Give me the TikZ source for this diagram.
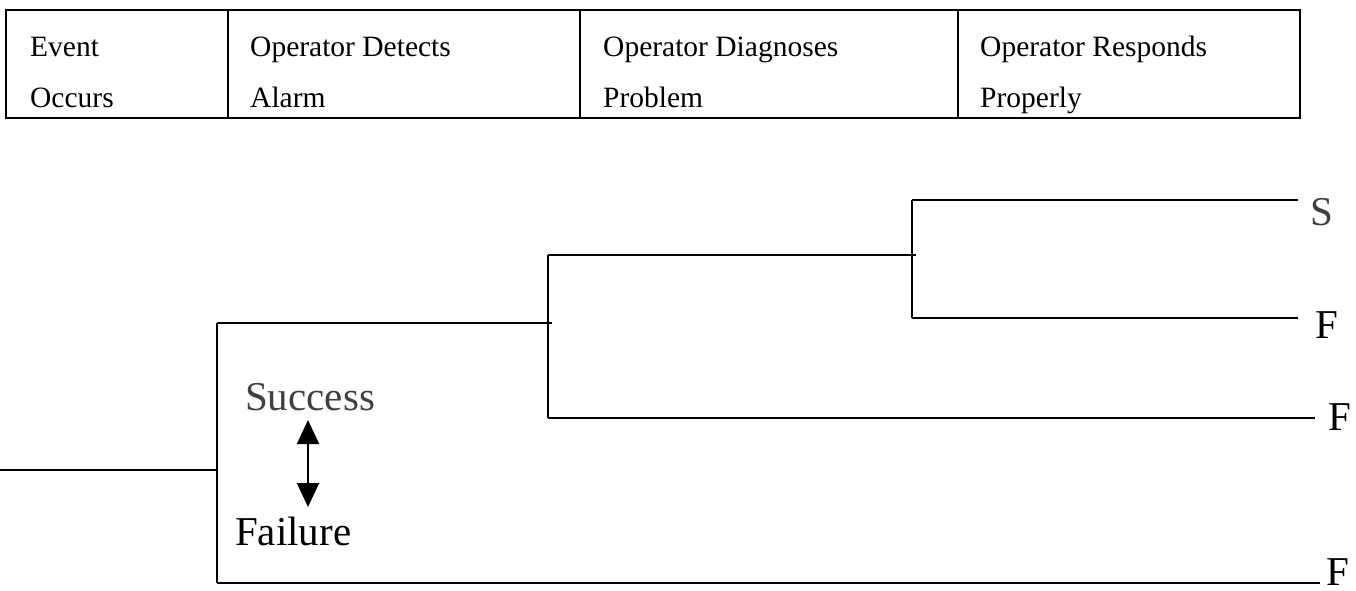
\documentclass[tikz,border=0pt]{standalone}
\usepackage{fontspec}
\setmainfont{Liberation Serif}
\usetikzlibrary{arrows.meta}
\begin{document}
\begin{tikzpicture}[x=1pt,y=-1pt,
  rule/.style={line width=2pt},
  branch/.style={line width=2pt},
  hdr/.style={font=\fontsize{29.5}{32}\selectfont, anchor=base west, inner sep=0pt},
  big/.style={font=\fontsize{41}{44}\selectfont, anchor=base west, inner sep=0pt},
  updown/.style={line width=2pt, {Triangle[width=22pt,length=24pt]}-{Triangle[width=22pt,length=24pt]}}]
\useasboundingbox (0,0) rectangle (1356,591);

% heading table
\draw[rule] (6,10) rectangle (1300,118);
\foreach \x in {228,580,958} \draw[rule] (\x,10) -- (\x,118);
\node[hdr] (h1a) at (30,57)  {Event};
\node[hdr] (h1b) at (30,107) {Occurs};
\node[hdr] (h2a) at (250,57) {Operator Detects};
\node[hdr] (h2b) at (250,107) {Alarm};
\node[hdr] (h3a) at (603,57) {Operator Diagnoses};
\node[hdr] (h3b) at (603,107) {Problem};
\node[hdr] (h4a) at (980,57) {Operator Responds};
\node[hdr] (h4b) at (980,107) {Properly};

% event tree branch points
\coordinate (start) at (0,470);
\coordinate (n1)  at (217,470);
\coordinate (n1u) at (217,323);
\coordinate (n1d) at (217,583);
\coordinate (n2)  at (548,323);
\coordinate (n2u) at (548,255);
\coordinate (n2d) at (548,418);
\coordinate (n3)  at (912,255);
\coordinate (n3u) at (912,200);
\coordinate (n3d) at (912,318);
\coordinate (e1) at (1298,200);
\coordinate (e2) at (1298,318);
\coordinate (e3) at (1315,418);
\coordinate (e4) at (1320,583);

% outcomes
\node[big, text=black!75] (oS)  at (1310,225) {S};
\node[big] (oF1) at (1315,338) {F};
\node[big] (oF2) at (1328,430) {F};
\node[big, text depth=0pt] (oF3) at (1326,585) {F};

% branches
\draw[branch] (start) -- (n1);
\draw[branch] (n1u) -- (n1d);
\draw[branch] (n1u) -- ([xshift=4pt]n2);
\draw[branch] (n2u) -- (n2d);
\draw[branch] (n2u) -- ([xshift=4pt]n3);
\draw[branch] (n3u) -- (n3d);
\draw[branch] (n3u) -- (e1);
\draw[branch] (n3d) -- (e2);
\draw[branch] (n2d) -- (e3);
\draw[branch] (n1d) -- (e4);

% legend
\node[big, text=black!75] (succ) at (245,410) {Success};
\node[big] (fail) at (235,545) {Failure};
\coordinate (a1) at (308,420);
\coordinate (a2) at (308,507);
\draw[updown] (a1) -- (a2);
\end{tikzpicture}
\end{document}
